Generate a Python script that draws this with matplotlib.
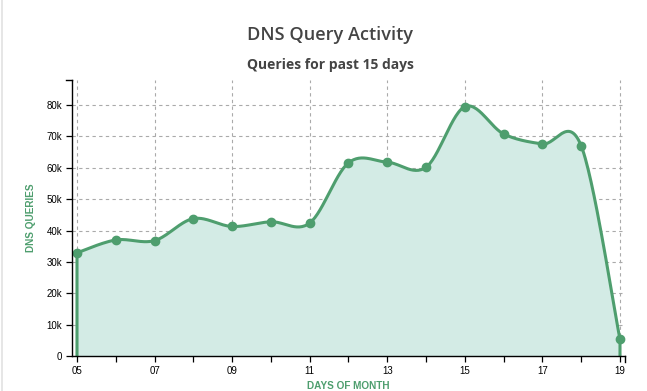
import numpy as np
import matplotlib.pyplot as plt
from matplotlib.lines import Line2D

# данные
days = [5, 6, 7, 8, 9, 10, 11, 12, 13, 14, 15, 16, 17, 18, 19]
queries = [32900, 37000, 36800, 43800, 41300, 42800, 42400,
           61600, 61800, 60200, 79500, 70800, 67600, 67000, 5300]
xticks_lab = ['05', '', '07', '', '09', '', '11', '', '13', '', '15', '', '17', '', '19']
yticks = [0, 10000, 20000, 30000, 40000, 50000, 60000, 70000, 80000]
yticks_lab = ['0', '10k', '20k', '30k', '40k', '50k', '60k', '70k', '80k']

GREEN = '#4e9e6e'
FILL = '#d3ebe5'
GRID = '#aaaaaa'


def cardinal(x, y, n=30):
    # кривая Катмулла-Рома через точки (как curveCardinal в d3)
    x = np.asarray(x, float)
    y = np.asarray(y, float)
    px = np.concatenate([[x[0]], x, [x[-1]]])
    py = np.concatenate([[y[0]], y, [y[-1]]])
    xs, ys = [], []
    t = np.linspace(0, 1, n, endpoint=False)
    h00 = 2*t**3 - 3*t**2 + 1
    h10 = t**3 - 2*t**2 + t
    h01 = -2*t**3 + 3*t**2
    h11 = t**3 - t**2
    for i in range(1, len(px) - 2):
        mx0 = (px[i+1] - px[i-1]) / 2
        mx1 = (px[i+2] - px[i]) / 2
        my0 = (py[i+1] - py[i-1]) / 2
        my1 = (py[i+2] - py[i]) / 2
        xs.append(h00*px[i] + h10*mx0 + h01*px[i+1] + h11*mx1)
        ys.append(h00*py[i] + h10*my0 + h01*py[i+1] + h11*my1)
    xs.append([x[-1]])
    ys.append([y[-1]])
    return np.concatenate(xs), np.concatenate(ys)


fig = plt.figure(figsize=(6.47, 3.91), dpi=100)
ax = fig.add_axes([72/647, 1 - 356/391, 553/647, 276/391])

xs, ys = cardinal(days, queries)
ax.fill_between(xs, 0, ys, color=FILL, zorder=2, linewidth=0)
ax.plot(np.concatenate([[xs[0]], xs, [xs[-1]]]), np.concatenate([[0], ys, [0]]),
        color=GREEN, linewidth=2.2, zorder=3, solid_joinstyle='round')
ax.plot(days, queries, 'o', color=GREEN, markersize=6, zorder=4)

ax.set_xlim(4.871, 19.129)
ax.set_ylim(0, 88000)

ax.set_xticks(days)
ax.set_xticklabels(xticks_lab)
ax.set_yticks(yticks)
ax.set_yticklabels(yticks_lab)
ax.tick_params(axis='both', direction='out', length=4.5, width=0.9, labelsize=7,
               pad=2.5, colors='black')
for lab in ax.get_xticklabels() + ax.get_yticklabels():
    lab.set_fontfamily('Liberation Sans')

# сетка: горизонтальная на каждой метке, вертикальная на подписанных днях
for v in yticks[1:]:
    ax.axhline(v, color=GRID, linestyle=(0, (3, 3)), linewidth=0.8, zorder=1)
for d, lab in zip(days, xticks_lab):
    if lab:
        ax.axvline(d, color=GRID, linestyle=(0, (3, 3)), linewidth=0.8, zorder=1)

for s in ['top', 'right']:
    ax.spines[s].set_visible(False)
for s in ['left', 'bottom']:
    ax.spines[s].set_linewidth(1.0)
    ax.spines[s].set_zorder(5)

# внешние засечки на концах осей
ax.add_line(Line2D([0, -6/553], [1, 1], transform=ax.transAxes, color='black',
                   linewidth=1.0, clip_on=False))
ax.add_line(Line2D([1, 1], [0, -6/276], transform=ax.transAxes, color='black',
                   linewidth=1.0, clip_on=False))

ax.set_ylabel('DNS QUERIES', color=GREEN, fontsize=7.2, fontweight='bold',
              family='Liberation Sans')
ax.yaxis.set_label_coords(-36/553, 0.5)
ax.set_xlabel('DAYS OF MONTH', color=GREEN, fontsize=7.2, fontweight='bold',
              family='Liberation Sans')
ax.xaxis.set_label_coords(0.5, -25/276)

fig.text(330/647, 1 - 35/391, 'DNS Query Activity', ha='center', va='center',
         fontsize=13.1, fontweight='semibold', family='Open Sans', color='#444444')
fig.text(330/647, 1 - 65/391, 'Queries for past 15 days', ha='center', va='center',
         fontsize=10, fontweight='bold', family='Open Sans', color='#444444')

# светлая рамка страницы слева
fig.add_artist(Line2D([2/647, 2/647], [0, 1], transform=fig.transFigure,
                      color='#e2e2e2', linewidth=1.2))

fig.savefig('out.png', dpi=100)
